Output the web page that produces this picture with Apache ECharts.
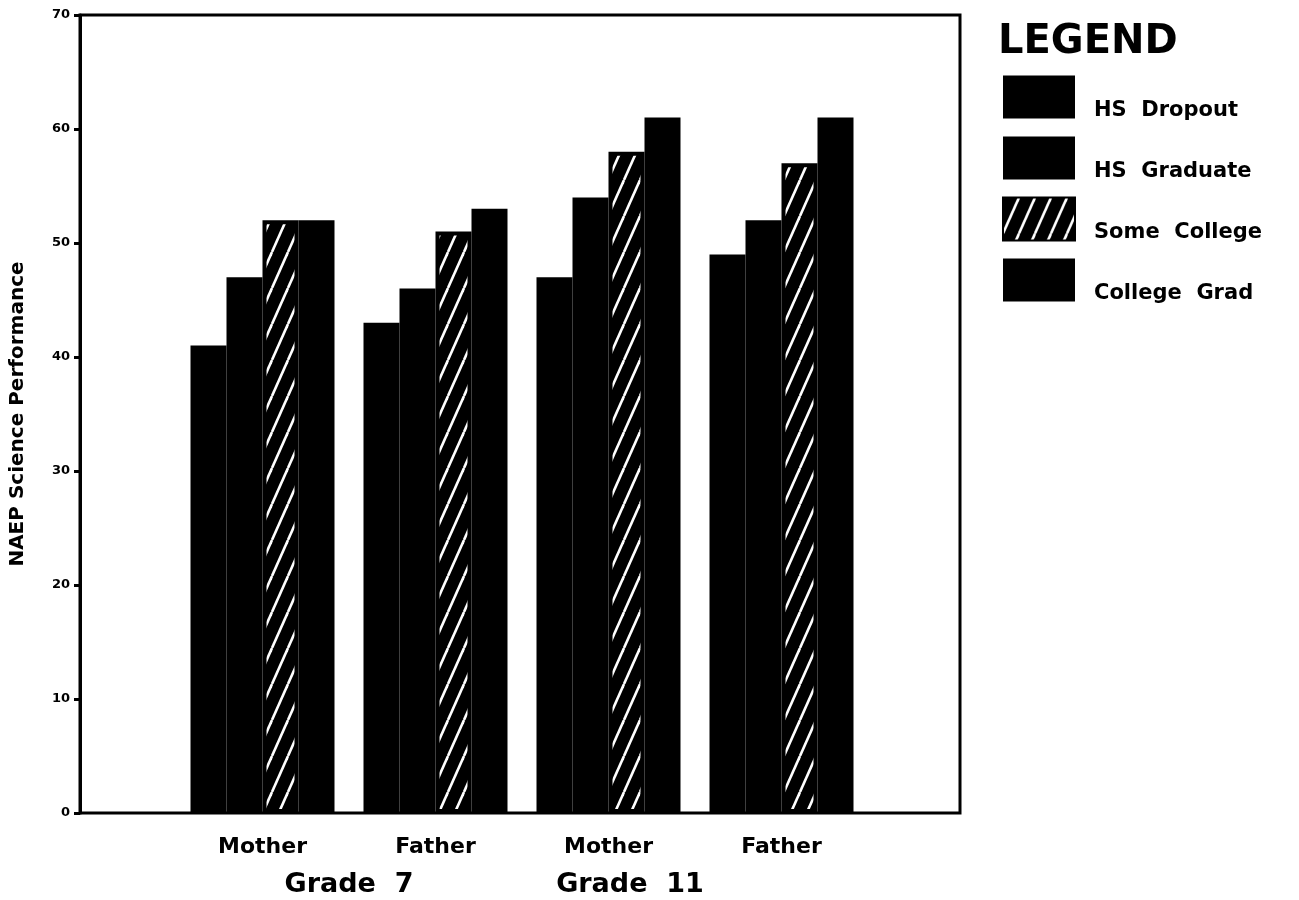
<!DOCTYPE html>
<html><head><meta charset="utf-8">
<script src="https://cdn.jsdelivr.net/npm/echarts/dist/echarts.min.js"></script>
<style>html,body{margin:0;background:#fff}#c{width:1299px;height:900px}</style>
</head><body><div id="c"></div>
<script>
const categories = ['Mother', 'Father', 'Mother', 'Father'];
const grades = ['Grade  7', 'Grade  11'];
const seriesNames = ['HS  Dropout', 'HS  Graduate', 'Some  College', 'College  Grad'];
const hsDropout = [41, 43, 47, 49];
const hsGraduate = [47, 46, 54, 52];
const someCollege = [52, 51, 58, 57];
const collegeGrad = [52, 53, 61, 61];
const yTicks = [0, 10, 20, 30, 40, 50, 60, 70];

function hatch() {
  const w = 16, h = 36;
  const cv = document.createElement('canvas');
  cv.width = w; cv.height = h;
  const g = cv.getContext('2d');
  g.fillStyle = '#000'; g.fillRect(0, 0, w, h);
  g.strokeStyle = '#fff'; g.lineWidth = 2.6;
  for (const o of [-w, 0, w]) {
    g.beginPath(); g.moveTo(o, h); g.lineTo(o + w, 0); g.stroke();
  }
  return { image: cv, repeat: 'repeat' };
}

const FONT = 'DejaVu Sans';
const chart = echarts.init(document.getElementById('c'), null, { renderer: 'canvas' });
const values = [hsDropout, hsGraduate, someCollege, collegeGrad];
const fills = ['#000', '#000', hatch(), '#000'];

chart.setOption({
  animation: false,
  backgroundColor: '#fff',
  title: {
    text: 'LEGEND', left: 993, top: 18,
    textStyle: { fontFamily: FONT, fontWeight: 'bold', fontSize: 40, color: '#000' }
  },
  legend: {
    orient: 'vertical', left: 997, top: 65,
    itemWidth: 72, itemHeight: 43, itemGap: 7, icon: 'rect',
    data: seriesNames,
    formatter: n => '\n' + n,
    textStyle: { fontFamily: FONT, fontWeight: 'bold', fontSize: 21, lineHeight: 27, color: '#000', padding: [0, 0, 0, 14] }
  },
  grid: [
    { left: 176, width: 692, top: 15, bottom: 87 },
    { left: 78, right: 339, top: 15, bottom: 87, show: true, borderColor: '#000', borderWidth: 3, backgroundColor: 'transparent' }
  ],
  xAxis: [
    { type: 'category', gridIndex: 0, data: categories,
      axisLine: { show: false }, axisTick: { show: false },
      axisLabel: { margin: 23, fontFamily: FONT, fontWeight: 'bold', fontSize: 22, color: '#000' } },
    { type: 'category', gridIndex: 0, data: [grades[0], { value: grades[1], textStyle: { padding: [0, 130, 0, 0] } }],
      position: 'bottom', offset: 58,
      axisLine: { show: false }, axisTick: { show: false },
      axisLabel: { margin: 0, fontFamily: FONT, fontWeight: 'bold', fontSize: 27, color: '#000' } },
    { type: 'value', gridIndex: 1, show: false, min: 0, max: 1 }
  ],
  yAxis: [
    { type: 'value', gridIndex: 0, min: 0, max: 70, interval: 10, show: false },
    { type: 'value', gridIndex: 1, min: 0, max: 70, interval: 10,
      name: 'NAEP Science Performance', nameLocation: 'middle', nameGap: 52,
      nameTextStyle: { fontFamily: FONT, fontWeight: 'bold', fontSize: 20, color: '#000' },
      axisLine: { show: true, lineStyle: { color: '#000', width: 3 } },
      axisTick: { show: true, length: 6, lineStyle: { color: '#000', width: 3 } },
      splitLine: { show: false },
      axisLabel: { margin: 10, fontFamily: FONT, fontWeight: 'bold', fontSize: 13, color: '#000',
        formatter: v => yTicks.includes(v) ? String(v) : '' } }
  ],
  series: seriesNames.map((n, i) => ({
    name: n, type: 'bar', xAxisIndex: 0, yAxisIndex: 0,
    data: values[i], barWidth: 36, barGap: '0%',
    itemStyle: { color: fills[i], borderColor: '#000', borderWidth: i === 2 ? 4 : 0 }
  }))
});
</script>
</body></html>
